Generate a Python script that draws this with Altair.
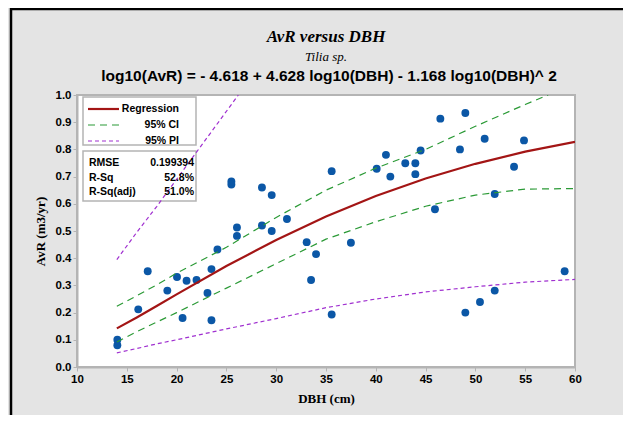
import altair as alt
import pandas as pd

# ---------------- data ----------------
dbh = [14.05, 14.05, 16.15, 17.1, 19.07, 20.04, 20.6, 21.0, 22.0, 23.1, 23.5, 23.5,
       24.1, 25.5, 25.5, 26.06, 26.06, 28.57, 28.57, 29.55, 29.55, 31.08, 33.06, 33.5,
       34.0, 35.57, 35.57, 37.5, 40.09, 41.02, 41.46, 42.96, 43.97, 43.97, 44.5, 45.94,
       46.48, 48.45, 48.99, 48.99, 50.46, 50.93, 51.94, 51.94, 53.88, 54.88, 58.96]
avr = [0.10, 0.08, 0.212, 0.352, 0.281, 0.331, 0.18, 0.317, 0.32, 0.272, 0.172, 0.36,
       0.432, 0.682, 0.671, 0.513, 0.482, 0.66, 0.52, 0.632, 0.50, 0.544, 0.459, 0.32,
       0.415, 0.72, 0.193, 0.457, 0.729, 0.78, 0.70, 0.749, 0.749, 0.709, 0.796, 0.58,
       0.913, 0.80, 0.934, 0.20, 0.239, 0.839, 0.636, 0.281, 0.736, 0.833, 0.352]

fit_x = [14, 16, 18, 20, 25, 30, 35, 40, 45, 50, 55, 60]
fit_y = [0.142, 0.182, 0.224, 0.267, 0.371, 0.467, 0.553, 0.629, 0.693, 0.747, 0.792, 0.828]

ci_up_x = [14, 16, 18, 20, 25, 30, 35, 40, 45, 50, 55, 57.3]
ci_up_y = [0.223, 0.262, 0.302, 0.345, 0.44, 0.55, 0.65, 0.731, 0.80, 0.885, 0.965, 1.0]

ci_lo_x = [14, 16, 18, 20, 25, 30, 35, 40, 45, 50, 55, 60]
ci_lo_y = [0.092, 0.13, 0.165, 0.20, 0.29, 0.38, 0.47, 0.534, 0.591, 0.632, 0.654, 0.656]

pi_up_x = [14, 16, 18, 20, 22, 24, 26.2]
pi_up_y = [0.395, 0.495, 0.59, 0.69, 0.79, 0.89, 1.0]

pi_lo_x = [14, 16, 18, 20, 25, 30, 35, 40, 45, 50, 55, 60]
pi_lo_y = [0.052, 0.068, 0.085, 0.10, 0.14, 0.178, 0.218, 0.25, 0.276, 0.295, 0.312, 0.322]

x_ticks = [10, 15, 20, 25, 30, 35, 40, 45, 50, 55, 60]
y_ticks = [0.0, 0.1, 0.2, 0.3, 0.4, 0.5, 0.6, 0.7, 0.8, 0.9, 1.0]

title_text = "AvR versus DBH"
subtitle_text = "Tilia sp."
equation_text = "log10(AvR) = - 4.618 + 4.628 log10(DBH) - 1.168 log10(DBH)^ 2"
legend_labels = ["Regression", "95% CI", "95% PI"]
stat_labels = ["RMSE", "R-Sq", "R-Sq(adj)"]
stat_values = ["0.199394", "52.8%", "51.0%"]

# ---------------- styling ----------------
BLUE = "#0b57a6"
RED = "#a31515"
GREEN = "#2b9a36"
PURPLE = "#a030d0"
FRAME = "#b4b4b4"

xs = alt.Scale(domain=[10, 60], nice=False, zero=False)
ys = alt.Scale(domain=[0, 1], nice=False)
xax = alt.Axis(values=x_ticks, title="DBH (cm)", format="d")
yax = alt.Axis(values=y_ticks, title="AvR (m3/yr)", format=".1f")

one = pd.DataFrame({"k": [0]})


def curve(xv, yv, color, dash, width):
    df = pd.DataFrame({"DBH": xv, "AvR": yv})
    mk = alt.Chart(df).mark_line(color=color, strokeWidth=width, clip=True,
                                 **({"strokeDash": dash} if dash else {}))
    return mk.encode(x=alt.X("DBH:Q", scale=xs, axis=xax),
                     y=alt.Y("AvR:Q", scale=ys, axis=yax))


# legend boxes
box1 = alt.Chart(one).mark_rect(fill="white", stroke=FRAME, strokeWidth=1.5).encode(
    x=alt.value(6), x2=alt.value(119), y=alt.value(2), y2=alt.value(50))
box2 = alt.Chart(one).mark_rect(fill="white", stroke=FRAME, strokeWidth=1.5).encode(
    x=alt.value(6), x2=alt.value(119), y=alt.value(56), y2=alt.value(106))

points = alt.Chart(pd.DataFrame({"DBH": dbh, "AvR": avr})).mark_circle(
    size=62, opacity=1, color=BLUE).encode(
    x=alt.X("DBH:Q", scale=xs, axis=xax), y=alt.Y("AvR:Q", scale=ys, axis=yax))

reg = curve(fit_x, fit_y, RED, None, 2.2)
ciu = curve(ci_up_x, ci_up_y, GREEN, [7, 5], 1.2)
cil = curve(ci_lo_x, ci_lo_y, GREEN, [7, 5], 1.2)
piu = curve(pi_up_x, pi_up_y, PURPLE, [4, 3], 1.2)
pil = curve(pi_lo_x, pi_lo_y, PURPLE, [4, 3], 1.2)

# legend line samples
leg_reg = alt.Chart(one).mark_rule(color=RED, strokeWidth=2.2).encode(
    x=alt.value(11), x2=alt.value(42), y=alt.value(14))
leg_ci = alt.Chart(one).mark_rule(color=GREEN, strokeWidth=1.2, strokeDash=[7, 5]).encode(
    x=alt.value(11), x2=alt.value(42), y=alt.value(30))
leg_pi = alt.Chart(one).mark_rule(color=PURPLE, strokeWidth=1.2, strokeDash=[4, 3]).encode(
    x=alt.value(11), x2=alt.value(42), y=alt.value(46))

leg_text = alt.Chart(pd.DataFrame({"t": legend_labels, "yy": [14, 30, 46]})).mark_text(
    align="right", baseline="middle", font="Liberation Sans", fontWeight="bold",
    fontSize=10.5, color="black").encode(
    x=alt.value(102), y=alt.Y("yy:Q", scale=None), text="t:N")

stat_l = alt.Chart(pd.DataFrame({"t": stat_labels, "yy": [68, 83, 97]})).mark_text(
    align="left", baseline="middle", font="Liberation Sans", fontWeight="bold",
    fontSize=10.5, color="black").encode(
    x=alt.value(12), y=alt.Y("yy:Q", scale=None), text="t:N")
stat_v = alt.Chart(pd.DataFrame({"t": stat_values, "yy": [68, 83, 97]})).mark_text(
    align="right", baseline="middle", font="Liberation Sans", fontWeight="bold",
    fontSize=10.5, color="black").encode(
    x=alt.value(117), y=alt.Y("yy:Q", scale=None), text="t:N")

# titles
t1 = alt.Chart(one).mark_text(font="Liberation Serif", fontSize=17, fontStyle="italic",
                              fontWeight="bold", color="black", baseline="middle").encode(
    x=alt.value(249), y=alt.value(-58), text=alt.value(title_text))
t2 = alt.Chart(one).mark_text(font="Liberation Serif", fontSize=13, fontStyle="italic",
                              color="black", baseline="middle").encode(
    x=alt.value(249), y=alt.value(-38), text=alt.value(subtitle_text))
t3 = alt.Chart(one).mark_text(font="Liberation Sans", fontSize=15.5, fontWeight="bold",
                              color="black", baseline="middle").encode(
    x=alt.value(252), y=alt.value(-19), text=alt.value(equation_text))

# black frame lines (left and top of the picture)
border_l = alt.Chart(one).mark_rule(color="black", strokeWidth=2.5).encode(
    x=alt.value(-66), y=alt.value(-88), y2=alt.value(340))
border_t = alt.Chart(one).mark_rule(color="black", strokeWidth=2.5).encode(
    y=alt.value(-86), x=alt.value(-67), x2=alt.value(570))

chart = alt.layer(
    box1, box2, points, pil, cil, reg, ciu, piu,
    leg_reg, leg_ci, leg_pi, leg_text, stat_l, stat_v,
    t1, t2, t3, border_l, border_t
).properties(
    width=498, height=272,
    background="#e4e4e4",
    padding={"left": 69, "top": 87, "right": 48, "bottom": 48},
    autosize=alt.AutoSizeParams(type="none"),
).configure_view(
    stroke=FRAME, strokeWidth=2, fill="white"
).configure_axis(
    grid=False,
    domainColor=FRAME, domainWidth=2,
    tickColor=FRAME, tickSize=4, tickWidth=1,
    labelFont="Liberation Sans", labelFontWeight="bold", labelFontSize=11.5,
    labelColor="black", labelPadding=2,
    titleFont="Liberation Serif", titleFontWeight="bold", titleFontSize=13,
    titleColor="black",
).configure_axisX(
    titlePadding=8, labelFlush=False
).configure_axisY(
    titlePadding=8, labelFlush=False
)

chart.save("out.html", embed_options={"renderer": "svg", "actions": False})
